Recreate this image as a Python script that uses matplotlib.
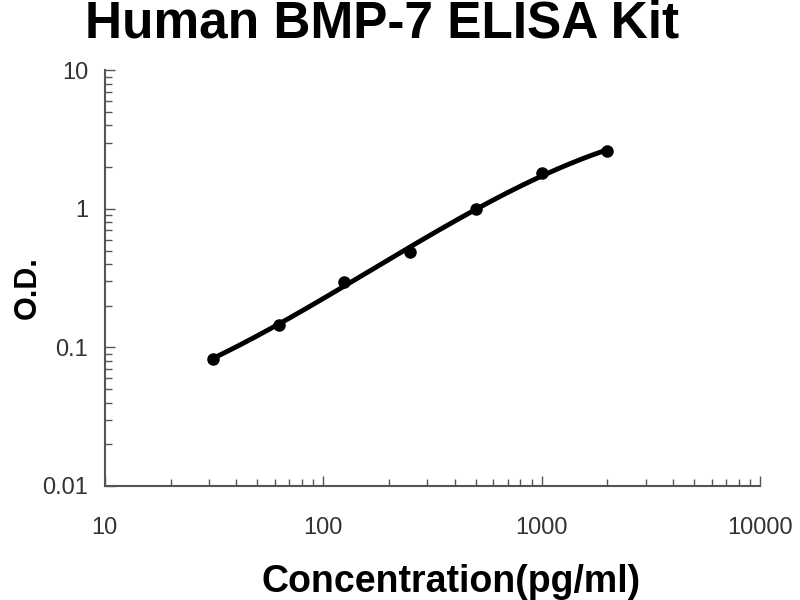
import numpy as np
import matplotlib.pyplot as plt

# standard curve readings
conc = [31.25, 62.5, 125, 250, 500, 1000, 2000]
od = [0.083, 0.145, 0.298, 0.49, 0.99, 1.80, 2.62]

title = 'Human BMP-7 ELISA Kit'
xlabel = 'Concentration(pg/ml)'
ylabel = 'O.D.'

plt.rcParams['font.family'] = ['Liberation Sans', 'DejaVu Sans']

fig = plt.figure(figsize=(8, 6), dpi=100)
ax = fig.add_axes([0.131, 0.19, 0.819, 0.693])

# smooth fit in log-log space
lx = np.log10(conc)
ly = np.log10(od)
coef = np.polyfit(lx, ly, 3)
xs = np.linspace(lx[0], lx[-1], 200)
ax.plot(10 ** xs, 10 ** np.polyval(coef, xs), color='black', lw=3.5)
ax.plot(conc, od, 'o', color='black', markersize=8)

ax.set_xscale('log')
ax.set_yscale('log')
ax.set_xlim(10, 10000)
ax.set_ylim(0.01, 10)
ax.set_xticks([10, 100, 1000, 10000])
ax.set_xticklabels(['10', '100', '1000', '10000'])
ax.set_yticks([0.01, 0.1, 1, 10])
ax.set_yticklabels(['0.01', '0.1', '1', '10'])

for s in ['top', 'right']:
    ax.spines[s].set_visible(False)
for s in ['left', 'bottom']:
    ax.spines[s].set_color('#555555')
    ax.spines[s].set_linewidth(1.5)

ax.tick_params(which='major', direction='in', length=7, width=1, color='#555555',
               labelsize=17, labelcolor='#333333')
ax.tick_params(which='minor', direction='in', length=5, width=1, color='#555555')
ax.tick_params(axis='x', which='major', pad=22)
ax.tick_params(axis='y', which='major', pad=12)

fig.text(0.478, 1.0, title, ha='center', va='top', fontsize=37, fontweight='bold')
fig.text(0.564, 0.03, xlabel, ha='center', va='center', fontsize=27, fontweight='bold')
fig.text(0.035, 0.52, ylabel, ha='center', va='center', rotation=90,
         fontsize=22, fontweight='bold')

fig.savefig('out.png', dpi=100)
